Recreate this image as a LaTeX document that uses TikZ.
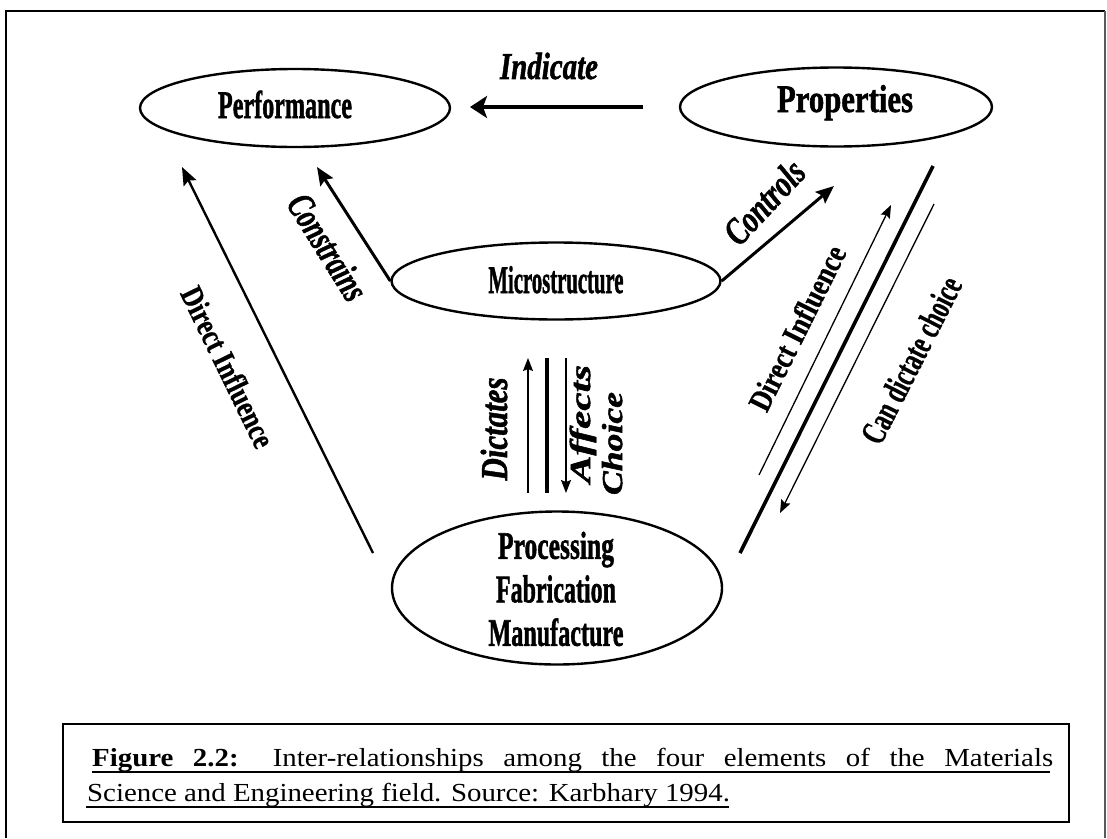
\documentclass[tikz,border=0pt]{standalone}
\usepackage{fontspec}
\setmainfont{Liberation Serif}
\newfontfamily\capfont[FakeStretch=1.11]{Liberation Serif}
% heavy face for the diagram labels
\newfontfamily\dgmfont[BoldFeatures={FakeBold=1.5},BoldItalicFeatures={FakeBold=1.5}]{Liberation Serif}
\newfontfamily\dgmlight[BoldFeatures={FakeBold=0.8}]{Liberation Serif}
\usetikzlibrary{arrows.meta,shapes.geometric}
% squeeze a label horizontally to a given width, keeping its height
\newsavebox\fitbox
\newcommand\fitto[2]{\sbox\fitbox{#2}%
  \scalebox{\fpeval{(#1)/(\the\wd\fitbox)}}[1]{\usebox\fitbox}}

\tikzset{
  oval/.style={draw, ellipse, line width=2.4pt, inner sep=0pt},
  ovaltext/.style={inner sep=0pt, font=\dgmfont\fontsize{39}{43.5}\selectfont\bfseries},
  itlabel/.style={inner sep=0pt, font=\dgmfont\fontsize{38}{38}\selectfont\bfseries\itshape},
  smalllabel/.style={inner sep=0pt, font=\dgmfont\fontsize{29}{32}\selectfont\bfseries\itshape},
  uplabel/.style={inner sep=0pt, font=\dgmlight\fontsize{32}{32}\selectfont\bfseries},
  heavyarrow/.style={line width=3.5pt, -{Stealth[length=17pt,width=22pt,inset=4pt]}},
  midarrow/.style={line width=3pt, -{Stealth[length=18pt,width=15pt,inset=3pt]}},
  lightarrow/.style={line width=2.4pt, -{Stealth[length=18pt,width=14pt,inset=3pt]}},
  thinarrow/.style={line width=1.3pt, -{Stealth[length=13pt,width=10pt,inset=2pt]}},
  heavyline/.style={line width=3.6pt},
  captext/.style={inner sep=0pt, font=\capfont\fontsize{26}{36}\selectfont},
}

\begin{document}
\begin{tikzpicture}[x=1pt,y=-1pt]
\useasboundingbox (0,0) rectangle (1107,838);

% page frame (open at the bottom)
\draw[line width=2pt] (6,838) -- (6,11) -- (1105,11);
\draw[line width=1.2pt, black!65] (1105,11) -- (1105,838);

% the four elements
\node[oval, minimum width=310pt, minimum height=78pt] (perf) at (295,108) {};
\node[oval, minimum width=312pt, minimum height=79pt] (prop) at (836,107) {};
\node[oval, minimum width=329pt, minimum height=77pt] (micro) at (556,281) {};
\node[oval, minimum width=330pt, minimum height=153pt] (proc) at (557,588) {};

\node[ovaltext, anchor=base] (perftext) at (285,118) {\fitto{134pt}{Performance}};
\node[ovaltext, anchor=base] (proptext) at (845,112) {\fitto{136pt}{Properties}};
\node[ovaltext, anchor=base] (microtext) at (556,293) {\fitto{135pt}{Microstructure}};
\node[ovaltext, align=center] (proctext) at (556,589)
  {\fitto{116pt}{Processing}\\\fitto{120pt}{Fabrication}\\\fitto{135pt}{Manufacture}};

% connector end points
\coordinate (indS) at (643,107);
\coordinate (indE) at (470,107);
\coordinate (ctrlE) at (834,186);
\coordinate (consE) at (317,167);
\coordinate (ldiS) at (373,553);
\coordinate (ldiE) at (182,167);
\coordinate (dicS) at (528,493);
\coordinate (dicE) at (528,358);
\coordinate (midS) at (547,493);
\coordinate (midE) at (547,358);
\coordinate (affS) at (566,358);
\coordinate (affE) at (566,493);
\coordinate (rthS) at (740,553);
\coordinate (rthE) at (933,166);
\coordinate (rupS) at (759,475);
\coordinate (rupE) at (891,205);
\coordinate (rdnS) at (934,204);
\coordinate (rdnE) at (780,513);

% connectors
\draw[heavyarrow] (indS) -- (indE);
\draw[midarrow] (micro.east) -- (ctrlE);
\draw[midarrow] (micro.west) -- (consE);
\draw[lightarrow] (ldiS) -- (ldiE);
\draw[thinarrow] (dicS) -- (dicE);
\draw[heavyline] (midS) -- (midE);
\draw[thinarrow] (affS) -- (affE);
\draw[heavyline] (rthS) -- (rthE);
\draw[thinarrow] (rupS) -- (rupE);
\draw[thinarrow] (rdnS) -- (rdnE);

% connector labels
\node[itlabel] (indicate) at (549,66) {\fitto{98pt}{Indicate}};
\node[itlabel, rotate=47] (controls) at (764,202) {\fitto{100pt}{Controls}};
\node[itlabel, rotate=-58] (constrains) at (328,247) {\fitto{118pt}{Constrains}};
\node[uplabel, rotate=-64] (ldi) at (228,367) {\fitto{175pt}{Direct Influence}};
\node[itlabel, rotate=90] (dictates) at (494,429) {\fitto{103pt}{Dictates}};
\node[smalllabel, rotate=90, align=left] (affects) at (596,430)
  {\hspace*{12pt}\fitto{118pt}{Affects}\\\fitto{103pt}{Choice}};
\node[uplabel, rotate=63.5] (rdi) at (797,328) {\fitto{180pt}{Direct Influence}};
\node[uplabel, rotate=63, font=\dgmlight\fontsize{35}{35}\selectfont\bfseries] (candictate) at (911,360)
  {\fitto{182pt}{Can dictate choice}};

% caption box
\draw[line width=2pt] (63,724) rectangle (1069,822);
\node[captext, anchor=base west] (capA) at (92,766)
  {\makebox[961pt][s]{\textbf{Figure 2.2:} Inter-relationships among the four elements of the Materials}};
\node[captext, anchor=base west] (capB) at (87,801)
  {Science and Engineering field. Source: Karbhary 1994.};
\draw[line width=1.4pt] (92,772) -- (1050,772);
\draw[line width=1.4pt] (86,807) -- (729,807);
\end{tikzpicture}
\end{document}
